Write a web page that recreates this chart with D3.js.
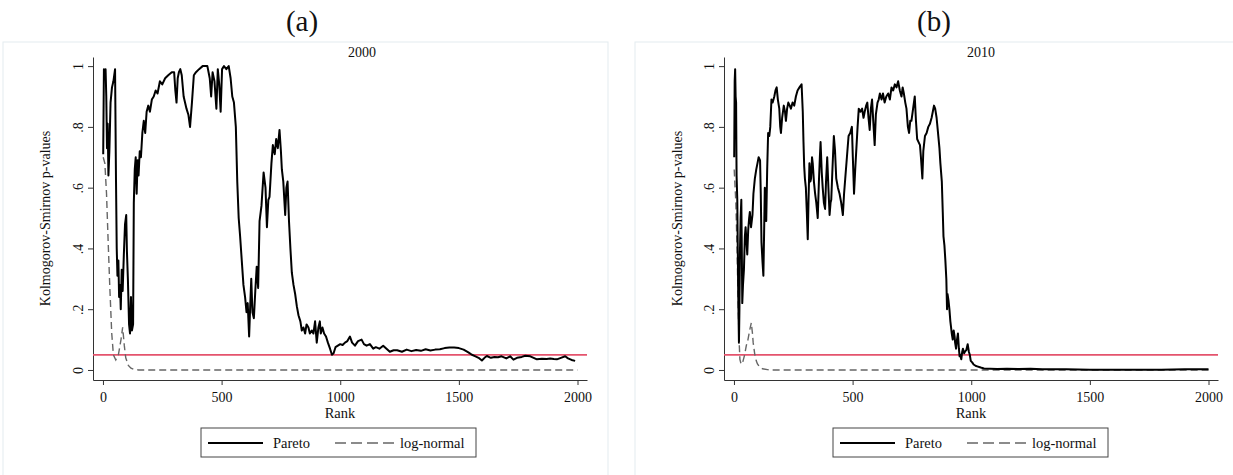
<!DOCTYPE html>
<html>
<head>
<meta charset="utf-8">
<script src="https://cdn.jsdelivr.net/npm/d3@7"></script>
<style>
  body { margin: 0; background: #fff; }
  svg { display: block; }
  text { font-family: "Liberation Serif", "Times New Roman", serif; fill: #111; }
</style>
</head>
<body>
<svg width="1233" height="475"></svg>
<script>
// waarden (rank, p-waarde)
const rank2000Pareto = [1,4,8,11,14,17,20,23,27,32,38,44,51,55,58,61,65,68,72,75,79,83,88,93,98,101,105,110,114,118,122,127,130,134,138,142,146,150,155,160,166,172,178,184,191,198,206,214,222,230,240,250,262,275,290,300,305,310,315,320,326,332,340,352,360,367,375,383,392,405,420,440,450,456,462,470,478,484,490,496,502,510,520,530,538,545,552,560,566,572,578,585,592,599,605,610,616,621,625,630,636,642,648,654,660,668,677,685,691,697,702,710,716,724,730,737,744,750,754,760,768,773,778,784,790,796,803,810,817,824,832,838,845,852,858,866,872,880,887,894,901,908,914,918,925,932,940,948,957,965,972,980,990,1000,1010,1020,1030,1041,1050,1062,1075,1090,1100,1111,1125,1139,1150,1165,1181,1195,1209,1225,1240,1260,1280,1300,1320,1340,1360,1380,1400,1420,1440,1460,1480,1500,1520,1540,1555,1570,1583,1597,1608,1618,1635,1650,1665,1680,1700,1716,1730,1745,1765,1780,1801,1815,1829,1850,1870,1885,1900,1913,1930,1948,1960,1975,1990];
const p2000Pareto = [0.71,0.99,0.96,0.99,0.90,0.73,0.81,0.64,0.72,0.88,0.93,0.95,0.99,0.62,0.40,0.31,0.36,0.24,0.28,0.20,0.33,0.26,0.38,0.48,0.51,0.39,0.30,0.15,0.12,0.24,0.13,0.15,0.55,0.66,0.70,0.58,0.69,0.64,0.72,0.70,0.78,0.82,0.78,0.85,0.87,0.85,0.89,0.90,0.92,0.91,0.95,0.94,0.96,0.97,0.98,0.98,0.92,0.88,0.96,0.98,0.99,0.97,0.90,0.86,0.84,0.80,0.88,0.97,0.98,0.99,1.0,1.0,0.96,0.90,0.98,0.95,0.86,0.99,0.94,0.85,0.99,1.0,0.99,1.0,0.96,0.90,0.88,0.80,0.62,0.50,0.44,0.36,0.28,0.24,0.19,0.22,0.11,0.22,0.30,0.19,0.17,0.26,0.34,0.27,0.49,0.54,0.65,0.60,0.47,0.56,0.57,0.68,0.74,0.71,0.76,0.73,0.79,0.72,0.66,0.62,0.51,0.60,0.62,0.49,0.40,0.32,0.28,0.25,0.21,0.18,0.16,0.13,0.14,0.12,0.15,0.14,0.12,0.13,0.12,0.16,0.09,0.14,0.16,0.12,0.14,0.12,0.11,0.09,0.07,0.05,0.055,0.075,0.08,0.085,0.082,0.09,0.095,0.11,0.09,0.08,0.095,0.10,0.085,0.08,0.085,0.07,0.075,0.07,0.08,0.07,0.06,0.065,0.065,0.06,0.067,0.062,0.066,0.063,0.068,0.064,0.067,0.068,0.072,0.074,0.074,0.072,0.067,0.058,0.05,0.045,0.04,0.031,0.04,0.046,0.04,0.043,0.042,0.045,0.038,0.045,0.034,0.04,0.043,0.047,0.045,0.04,0.035,0.037,0.036,0.038,0.036,0.035,0.04,0.045,0.038,0.033,0.03];
const rank2000LogNormal = [1,8,15,22,29,37,44,54,65,76,83,90,96,107,118,130,150,2000];
const p2000LogNormal = [0.70,0.68,0.58,0.42,0.27,0.12,0.05,0.033,0.05,0.10,0.14,0.08,0.04,0.015,0.006,0.002,0,0];

const rank2010Pareto = [1,3,5,7,9,11,14,16,18,21,23,25,28,31,33,35,38,42,46,49,53,56,60,64,67,72,78,82,88,94,99,104,110,113,116,120,124,127,130,133,136,140,144,149,153,158,163,170,175,180,185,191,195,198,203,210,215,219,224,229,235,240,247,254,261,268,276,285,290,293,296,299,303,307,311,314,318,322,325,329,332,337,342,347,353,358,362,365,370,374,379,384,388,393,398,403,407,410,415,421,426,431,438,445,452,459,464,469,476,483,490,497,501,506,511,516,521,526,533,540,546,551,557,562,567,572,577,582,587,593,598,605,610,615,622,628,635,642,650,657,664,671,678,685,692,699,706,711,716,722,727,733,738,743,748,755,762,767,772,778,784,788,794,798,805,812,819,826,833,838,843,848,854,860,866,870,876,880,883,887,891,895,898,900,904,908,912,915,918,922,926,930,932,936,940,944,948,951,954,958,962,965,970,975,979,985,990,994,998,1004,1010,1018,1025,1040,1054,1080,1110,1150,1200,1250,1300,1400,1500,1600,1700,1800,1900,2000];
const p2010Pareto = [0.70,0.95,0.99,0.90,0.88,0.64,0.56,0.40,0.25,0.09,0.20,0.38,0.50,0.56,0.40,0.22,0.28,0.33,0.44,0.47,0.42,0.38,0.46,0.50,0.52,0.47,0.51,0.58,0.63,0.66,0.68,0.70,0.69,0.58,0.42,0.36,0.31,0.45,0.60,0.52,0.49,0.66,0.78,0.77,0.80,0.89,0.88,0.90,0.92,0.93,0.89,0.86,0.80,0.78,0.83,0.87,0.85,0.82,0.86,0.88,0.87,0.86,0.88,0.87,0.90,0.92,0.93,0.94,0.85,0.75,0.67,0.63,0.60,0.52,0.43,0.55,0.68,0.62,0.63,0.70,0.68,0.62,0.58,0.55,0.50,0.62,0.70,0.75,0.65,0.60,0.55,0.53,0.62,0.70,0.60,0.51,0.55,0.56,0.66,0.77,0.72,0.63,0.60,0.58,0.55,0.51,0.58,0.63,0.70,0.77,0.78,0.80,0.70,0.58,0.66,0.73,0.80,0.86,0.85,0.86,0.83,0.85,0.87,0.88,0.83,0.79,0.86,0.89,0.82,0.74,0.84,0.88,0.89,0.91,0.89,0.91,0.88,0.90,0.91,0.89,0.93,0.92,0.94,0.93,0.95,0.92,0.90,0.93,0.91,0.88,0.86,0.80,0.78,0.82,0.82,0.86,0.90,0.82,0.76,0.75,0.74,0.70,0.63,0.72,0.77,0.78,0.80,0.81,0.83,0.85,0.87,0.86,0.83,0.78,0.73,0.68,0.62,0.52,0.44,0.41,0.36,0.30,0.20,0.25,0.23,0.20,0.16,0.14,0.12,0.10,0.13,0.11,0.09,0.07,0.10,0.12,0.07,0.045,0.05,0.035,0.06,0.07,0.055,0.062,0.065,0.085,0.06,0.05,0.03,0.025,0.018,0.014,0.012,0.008,0.005,0.004,0.003,0.004,0.003,0.004,0.002,0.002,0.001,0.001,0.001,0.001,0.002,0.002];
const rank2010LogNormal = [1,8,13,18,22,25,30,35,45,52,59,66,73,78,81,88,94,99,110,120,141,160,2000];
const p2010LogNormal = [0.66,0.55,0.40,0.20,0.09,0.035,0.02,0.02,0.05,0.08,0.10,0.13,0.155,0.12,0.09,0.05,0.03,0.02,0.008,0.004,0.001,0,0];

const xTicks = [0, 500, 1000, 1500, 2000];
const yTicks = [0, 0.2, 0.4, 0.6, 0.8, 1];
const yTickLabels = ["0", ".2", ".4", ".6", ".8", "1"];
const panelLetters = ["(a)", "(b)"];
const panelYears = ["2000", "2010"];
const legendLabels = ["Pareto", "log-normal"];
const threshold = 0.05;

const svg = d3.select("svg");

const panels = [
    { frameX: 3, frameW: 605, left: 93, right: 587, letterX: 302, yearX: 362,
      pareto: d3.zip(rank2000Pareto, p2000Pareto), lognormal: d3.zip(rank2000LogNormal, p2000LogNormal) },
    { frameX: 635, frameW: 600, left: 724, right: 1218, letterX: 934, yearX: 981,
      pareto: d3.zip(rank2010Pareto, p2010Pareto), lognormal: d3.zip(rank2010LogNormal, p2010LogNormal) }
];

const render = (p, i) => {
    const top = 57, bottom = 380;

    const xScale = d3.scaleLinear().domain([-42, 2040]).range([p.left, p.right]);
    const yScale = d3.scaleLinear().domain([-0.033, 1.03]).range([bottom, top]);

    svg.append("text")
        .attr("x", p.letterX).attr("y", 31)
        .attr("text-anchor", "middle")
        .style("font-size", "29px")
        .text(panelLetters[i]);

    svg.append("rect")
        .attr("x", p.frameX).attr("y", 42)
        .attr("width", p.frameW).attr("height", 440)
        .attr("fill", "#fff")
        .attr("stroke", "#e3ebef");

    svg.append("text")
        .attr("x", p.yearX).attr("y", 57)
        .attr("text-anchor", "middle")
        .style("font-size", "14px")
        .text(panelYears[i]);

    // y-as met gedraaide labels
    const yAxis = d3.axisLeft(yScale)
        .tickValues(yTicks)
        .tickFormat((d, k) => yTickLabels[k])
        .tickSize(5)
        .tickSizeOuter(0);
    const gy = svg.append("g")
        .attr("transform", `translate(${p.left},0)`)
        .call(yAxis);
    gy.selectAll("text")
        .attr("transform", "rotate(-90)")
        .attr("x", 0).attr("y", -10).attr("dy", 0)
        .attr("text-anchor", "middle")
        .style("font-size", "14px")
        .style("font-family", "Liberation Serif");

    const xAxis = d3.axisBottom(xScale)
        .tickValues(xTicks)
        .tickFormat(d3.format("d"))
        .tickSize(5)
        .tickSizeOuter(0);
    const gx = svg.append("g")
        .attr("transform", `translate(0,${bottom})`)
        .call(xAxis);
    gx.selectAll("text")
        .attr("y", 12)
        .style("font-size", "14px")
        .style("font-family", "Liberation Serif");

    [gx, gy].forEach(g => {
        g.selectAll("path, line").attr("stroke", "#333");
        g.selectAll("text").attr("fill", "#111");
    });

    svg.append("text")
        .attr("transform", `translate(${p.frameX + 47},${(top + bottom) / 2}) rotate(-90)`)
        .attr("text-anchor", "middle")
        .style("font-size", "14px")
        .text("Kolmogorov-Smirnov p-values");

    svg.append("text")
        .attr("x", (p.left + p.right) / 2).attr("y", 418)
        .attr("text-anchor", "middle")
        .style("font-size", "14.5px")
        .text("Rank");

    // rode lijn bij p = 0.05
    svg.append("line")
        .attr("x1", p.left).attr("x2", p.right)
        .attr("y1", yScale(threshold)).attr("y2", yScale(threshold))
        .attr("stroke", "#e4536d")
        .attr("stroke-width", 1.8);

    const line = d3.line()
        .x(d => xScale(d[0]))
        .y(d => yScale(d[1]));

    svg.append("path")
        .datum(p.lognormal)
        .attr("d", line)
        .attr("fill", "none")
        .attr("stroke", "#666")
        .attr("stroke-width", 1.4)
        .attr("stroke-dasharray", "7,4");

    svg.append("path")
        .datum(p.pareto)
        .attr("d", line)
        .attr("fill", "none")
        .attr("stroke", "#000")
        .attr("stroke-width", 2)
        .attr("stroke-linejoin", "round");

    // legenda
    const lx = p.frameX + 198;
    const lg = svg.append("g").attr("transform", `translate(${lx},428)`);
    lg.append("rect")
        .attr("width", 275).attr("height", 29)
        .attr("fill", "#fff")
        .attr("stroke", "#444");
    lg.append("line")
        .attr("x1", 7).attr("x2", 62).attr("y1", 15).attr("y2", 15)
        .attr("stroke", "#000").attr("stroke-width", 1.8);
    lg.append("text")
        .attr("x", 72).attr("y", 20)
        .style("font-size", "14.5px")
        .text(legendLabels[0]);
    lg.append("line")
        .attr("x1", 134).attr("x2", 193).attr("y1", 15).attr("y2", 15)
        .attr("stroke", "#666").attr("stroke-width", 1.4)
        .attr("stroke-dasharray", "11,5");
    lg.append("text")
        .attr("x", 199).attr("y", 20)
        .style("font-size", "14.5px")
        .text(legendLabels[1]);
};

panels.forEach(render);
</script>
</body>
</html>
